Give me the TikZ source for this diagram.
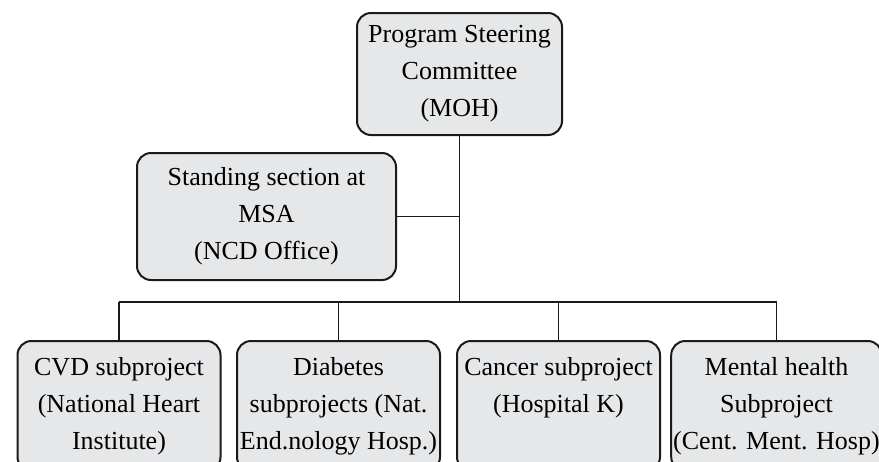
\documentclass[tikz,border=0pt]{standalone}
\usepackage{fontspec}
\setmainfont{Liberation Serif}
\usepackage{tikz}
\usetikzlibrary{positioning,calc}
\usepackage{xcolor}
\definecolor{orgfill}{HTML}{E6E7E9}
\definecolor{orgline}{HTML}{1A1A1A}
\tikzset{
  unit/.style={draw=orgline, line width=2pt, fill=orgfill, rounded corners=14pt,
               align=center, inner sep=2pt, font=\fontsize{26}{37}\selectfont},
  sub/.style={unit, minimum width=203pt, minimum height=130pt, anchor=north},
  link/.style={draw=orgline, line width=1.3pt},
}

\begin{document}
\begin{tikzpicture}[x=1pt, y=-1pt]

\useasboundingbox (0,0) rectangle (879,461);
\clip (0,0) rectangle (879,461);

\node[unit, minimum width=205pt, minimum height=122pt] (steer) at (459.5,74)
  {Program Steering\\Committee\\(MOH)};
\node[unit, minimum width=259pt, minimum height=127pt] (msa) at (266.5,216.5)
  {Standing section at\\MSA\\(NCD Office)};

\node[sub] (cvd)  at (119,340)   {CVD subproject\\(National Heart\\Institute)};
\node[sub] (diab) at (338.5,340) {Diabetes\\subprojects (Nat.\\End.nology Hosp.)};
\node[sub] (canc) at (558.5,340) {Cancer subproject\\(Hospital K)\\\vphantom{(}};
\node[sub] (ment) at (776.5,340) {Mental health\\Subproject\\(Cent. Ment. Hosp)};

% trunk and bus
\coordinate (bus) at (steer.south |- 0,302);
\draw[link] (steer.south) -- (bus);
\draw[link] (msa.east) -- (msa.east -| steer.south);
\draw[link] (cvd.north |- bus) -- (ment.north |- bus);

\draw[link] (cvd.north |- bus) -- (cvd.north);
\draw[link] (diab.north |- bus) -- (diab.north);
\draw[link] (canc.north |- bus) -- (canc.north);
\draw[link] (ment.north |- bus) -- (ment.north);

\end{tikzpicture}
\end{document}
